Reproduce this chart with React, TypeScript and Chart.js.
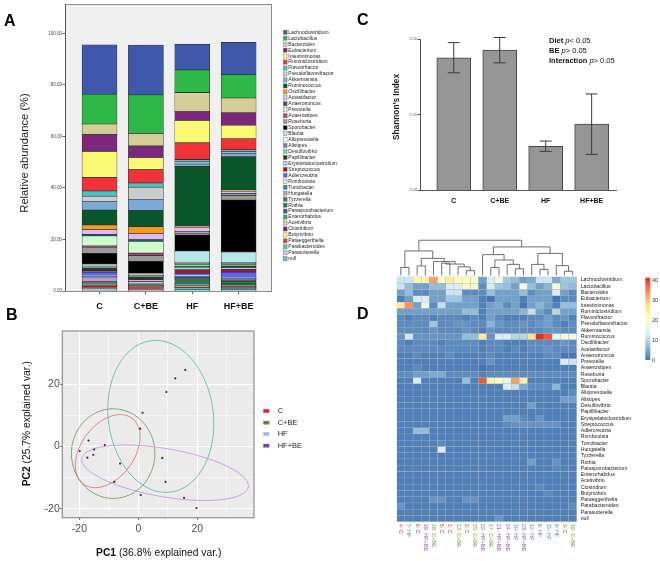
import React, { useEffect, useRef } from 'react';
import { Chart, registerables } from 'chart.js';
Chart.register(...registerables);

const FONT = '"Liberation Sans", Arial, Helvetica, sans-serif';
Chart.defaults.font.family = FONT;

// ---------------- Panel A : relative abundance ----------------
const groups = ['C', 'C+BE', 'HF', 'HF+BE'];
const genera = ['Lachnoclostridium', 'Lactobacillus', 'Bacteroides', 'Eubacterium', 'Intestinimonas', 'Ruminiclostridium', 'Flavonifractor', 'Pseudoflavonifractor', 'Akkermansia', 'Ruminococcus', 'Oscillibacter', 'Acetatifactor', 'Anaerotruncus', 'Prevotella', 'Anaerostipes', 'Roseburia', 'Sporobacter', 'Blautia', 'Alloprevotella', 'Alistipes', 'Desulfovibrio', 'Papillibacter', 'Erysipelatoclostridium', 'Streptococcus', 'Adlercreutzia', 'Romboutsia', 'Turicibacter', 'Hungatella', 'Tyzzerella', 'Rothia', 'Parasporobacterium', 'Enterorhabdus', 'Acetivibrio', 'Clostridium', 'Butyrivibrio', 'Paraeggerthella', 'Parabacteroides', 'Parasutterella', 'null'];
const generaColors = ['#3e58ac', '#2eb848', '#d3ce97', '#7c287d', '#fbf873', '#ef3338', '#48c2c5', '#cccccc', '#7aaad5', '#0a562c', '#f8981d', '#ddbaf1', '#1a5f76', '#ccffcc', '#bb3f7f', '#999999', '#000000', '#b6e7e8', '#ffffff', '#797aa7', '#70dc84', '#333333', '#acd0ee', '#a21619', '#5d61ff', '#e4e4e4', '#278bac', '#b89bc9', '#666666', '#0d8d46', '#3e58ac', '#2eb848', '#d3ce97', '#7c287d', '#fbf873', '#ef3338', '#48c2c5', '#cccccc', '#7aaad5'];
const abundanceC = [19.2, 11.6, 4.1, 6.5, 10.2, 5.2, 2.0, 2.0, 3.4, 5.8, 1.7, 1.9, 0.6, 3.9, 0.6, 2.3, 4.1, 0.4, 0.3, 0.5, 0.3, 1.2, 0.3, 0.2, 1.3, 0.3, 0.3, 1.7, 0.6, 0.2, 0.3, 0.2, 0.1, 0.3, 0.1, 0.8, 0.3, 0.4, 0.4];
const abundanceCBE = [19.4, 15.0, 4.8, 4.5, 4.7, 5.2, 1.6, 4.7, 4.4, 6.3, 2.7, 2.2, 0.8, 4.5, 1.0, 2.2, 4.7, 0.3, 0.4, 0.4, 0.2, 1.3, 0.4, 0.2, 0.2, 0.3, 0.2, 0.2, 0.3, 0.2, 0.1, 0.1, 0.1, 0.2, 0.1, 1.0, 0.2, 0.2, 0.2];
const abundanceHF = [10.0, 8.8, 7.4, 3.4, 8.7, 6.5, 0.9, 0.8, 0.9, 23.2, 0.4, 1.6, 0.5, 0.3, 0.2, 0.5, 6.2, 4.3, 0.3, 0.5, 0.8, 0.4, 1.0, 1.3, 0.8, 0.3, 0.6, 0.4, 0.5, 1.0, 0.5, 0.4, 0.3, 0.3, 0.2, 0.3, 0.8, 0.3, 0.2];
const abundanceHFBE = [12.5, 9.1, 5.7, 4.9, 5.2, 4.3, 0.8, 0.5, 1.4, 12.9, 0.5, 0.8, 0.3, 0.3, 0.2, 1.8, 20.2, 4.1, 0.3, 0.4, 0.6, 0.6, 0.8, 1.0, 2.0, 0.3, 0.5, 0.3, 0.6, 0.8, 0.3, 0.5, 0.2, 0.3, 0.1, 0.3, 0.6, 0.3, 0.2];
const abundanceTicks = [0, 20, 40, 60, 80, 100];

// ---------------- Panel B : PCA ----------------
const pcaGroups = ['C', 'C+BE', 'HF', 'HF+BE'];
const pcaLegendColors = ['#e8232a', '#4f8c3b', '#9db8e2', '#7541ae'];
const pcaEllipseColors = ['#e07474', '#809a64', '#66b9b5', '#c797e6'];
const pcaXC = [-16.9, -15.0, -17.3, -15.3, -11.4];
const pcaYC = [1.9, -1.0, -3.6, -2.7, 0.45];
const pcaXCBE = [-19.9, -6.2, -8.2, 0.8];
const pcaYCBE = [-1.5, -5.5, -11.4, -15.6];
const pcaXHF = [15.9, 12.5, 9.5, 1.4, 0.6];
const pcaYHF = [24.6, 21.9, 17.5, 10.8, 5.7];
const pcaXHFBE = [8.1, 9.2, 15.5, 19.7];
const pcaYHFBE = [-3.7, -11.4, -16.5, -19.8];
const ellipseCenterX = [-10.4, -8.55, 7.6, 9.05];
const ellipseCenterY = [-1.5, -2.3, 9.65, -8.46];
const ellipseRadiusA = [13.4, 14.15, 17.8, 28.6];
const ellipseRadiusB = [8.85, 14.4, 24.55, 7.75];
const ellipseAngleDeg = [50, 0, 8.5, -9.2];
const pcaTicks = [-20, -10, 0, 10, 20, 30];

// ---------------- Panel C : Shannon index ----------------
const shannonMean = [2.438, 2.463, 2.145, 2.218];
const shannonErr = [0.05, 0.042, 0.017, 0.1];
const shannonTicks = [2.0, 2.25, 2.5];

// ---------------- Panel D : heatmap ----------------
const heatCols = ['4- C', '7- HF', '6- C', '19- HF+BE', '18- C+BE', '5- C', '1- C', '13- C+BE', '2- C', '15- C+BE', '22- HF+BE', '17- C+BE', '21- HF+BE', '24- HF+BE', '10- HF', '23- HF+BE', '12- HF', '8- HF', '11- HF', '9- HF', '3- C', '16- C+BE'];
const heatRows = genera;
const heatValues = [
  [12, 12, 23, 23, 33, 20, 25, 22, 21, 21, 4, 13, 17, 8, 7, 4, 5, 12, 12, 5, 8, 8],
  [12, 7, 4, 4, 7, 7, 13, 13, 19, 19, 2, 13, 8, 7, 4, 18, 7, 4, 6, 19, 8, 7],
  [4, 7, 2, 2, 4, 4, 12, 12, 2, 2, 2, 7, 4, 4, 4, 7, 2, 4, 4, 13, 4, 2],
  [1, 4, 13, 13, 4, 4, 8, 8, 4, 4, 1, 0, 4, 4, 4, 1, 4, 4, 4, 0, 2, 2],
  [25, 34, 4, 16, 2, 11, 4, 4, 4, 4, 1, 4, 5, 2, 4, 0, 4, 6, 4, 1, 7, 7],
  [4, 4, 4, 4, 4, 4, 4, 4, 7, 7, 1, 4, 4, 4, 4, 6, 11, 4, 2, 10, 4, 4],
  [2, 1, 2, 2, 1, 2, 2, 2, 1, 2, 1, 4, 2, 1, 1, 1, 2, 2, 4, 2, 3, 1],
  [2, 2, 2, 2, 8, 2, 2, 3, 3, 2, 2, 6, 3, 2, 2, 3, 2, 3, 4, 2, 1, 2],
  [2, 2, 2, 2, 3, 2, 2, 2, 3, 2, 1, 3, 2, 2, 2, 2, 2, 2, 3, 3, 2, 2],
  [3, 12, 3, 3, 3, 3, 3, 3, 7, 7, 25, 3, 13, 13, 10, 10, 27, 41, 38, 14, 17, 17],
  [2, 1, 2, 2, 2, 1, 2, 2, 2, 2, 1, 2, 2, 1, 1, 1, 2, 2, 2, 2, 3, 2],
  [2, 2, 2, 2, 2, 2, 2, 2, 2, 2, 1, 2, 2, 1, 2, 1, 2, 2, 3, 2, 2, 2],
  [1, 1, 2, 1, 1, 1, 2, 1, 1, 1, 1, 2, 1, 1, 1, 1, 1, 1, 2, 2, 0, 0],
  [1, 1, 1, 1, 1, 1, 1, 1, 1, 1, 1, 3, 1, 1, 1, 1, 1, 1, 1, 1, 13, 12],
  [1, 1, 2, 1, 1, 1, 1, 1, 1, 1, 0, 1, 1, 1, 1, 1, 1, 1, 1, 1, 1, 1],
  [2, 2, 4, 4, 5, 5, 2, 2, 2, 2, 1, 2, 2, 2, 2, 2, 2, 2, 2, 2, 2, 2],
  [1, 1, 13, 1, 1, 1, 1, 1, 7, 1, 38, 22, 21, 14, 33, 23, 1, 1, 1, 1, 1, 1],
  [1, 1, 1, 1, 1, 1, 1, 1, 1, 1, 1, 1, 1, 13, 11, 5, 2, 2, 2, 6, 1, 1],
  [1, 1, 1, 1, 1, 1, 1, 1, 1, 1, 1, 1, 1, 1, 1, 1, 1, 1, 1, 1, 1, 2],
  [1, 1, 1, 1, 1, 1, 1, 1, 1, 1, 1, 1, 1, 1, 1, 1, 1, 1, 1, 1, 4, 4],
  [1, 1, 1, 1, 1, 1, 1, 1, 1, 1, 1, 1, 1, 1, 1, 1, 4, 1, 1, 1, 1, 1],
  [1, 1, 1, 1, 1, 1, 1, 1, 1, 1, 1, 1, 1, 1, 1, 1, 1, 1, 1, 1, 1, 1],
  [1, 1, 1, 1, 1, 1, 1, 1, 1, 1, 1, 1, 1, 4, 4, 2, 1, 3, 1, 1, 1, 1],
  [1, 1, 1, 1, 1, 1, 1, 1, 1, 1, 1, 1, 1, 2, 3, 3, 3, 3, 3, 3, 1, 1],
  [1, 1, 7, 7, 1, 1, 1, 1, 1, 1, 1, 1, 1, 1, 1, 1, 1, 1, 1, 1, 1, 1],
  [1, 1, 1, 1, 1, 1, 1, 1, 1, 1, 1, 1, 1, 1, 1, 1, 1, 1, 1, 1, 1, 1],
  [1, 1, 1, 1, 1, 2, 1, 1, 1, 1, 1, 1, 1, 1, 1, 1, 1, 1, 1, 1, 1, 1],
  [1, 1, 1, 1, 1, 13, 1, 1, 1, 1, 1, 1, 1, 1, 1, 1, 1, 1, 1, 1, 1, 1],
  [1, 1, 1, 1, 1, 1, 1, 1, 1, 1, 1, 1, 1, 1, 1, 1, 1, 1, 1, 1, 1, 1],
  [1, 1, 1, 1, 1, 1, 1, 1, 1, 1, 1, 1, 1, 1, 1, 1, 4, 1, 1, 3, 1, 1],
  [1, 1, 1, 1, 1, 1, 1, 1, 1, 1, 1, 1, 1, 1, 1, 1, 1, 1, 1, 2, 1, 1],
  [1, 1, 1, 1, 1, 1, 1, 1, 1, 1, 1, 1, 1, 1, 1, 1, 1, 1, 1, 1, 1, 1],
  [1, 1, 1, 1, 1, 1, 1, 1, 1, 1, 1, 1, 1, 1, 1, 1, 1, 1, 1, 1, 1, 1],
  [1, 1, 1, 1, 1, 1, 1, 1, 1, 1, 1, 1, 1, 1, 1, 1, 1, 2, 1, 1, 1, 1],
  [1, 1, 1, 1, 1, 1, 1, 1, 1, 1, 1, 1, 1, 1, 1, 1, 1, 1, 2, 1, 1, 1],
  [1, 1, 1, 1, 3, 3, 1, 1, 3, 3, 1, 1, 1, 1, 1, 1, 1, 1, 1, 1, 1, 1],
  [3, 1, 1, 1, 1, 1, 1, 1, 1, 1, 1, 1, 1, 1, 1, 1, 1, 1, 1, 1, 1, 2],
  [1, 1, 1, 1, 1, 1, 1, 1, 1, 1, 1, 1, 1, 1, 1, 1, 1, 1, 1, 1, 1, 1],
  [1, 1, 1, 1, 1, 1, 1, 1, 1, 1, 1, 1, 3, 1, 1, 1, 1, 1, 1, 1, 1, 1],
];
const heatLegendTicks = [0, 10, 20, 30, 40];
const heatMax = 41.2;
const heatStops = [0, 6.87, 13.73, 20.6, 27.47, 34.33, 41.2];
const heatStopColors = ['#4575b4', '#91bfdb', '#e0f3f8', '#ffffbf', '#fee090', '#fc8d59', '#d73027'];
// hclust-style merges: negative = leaf (column order), positive = earlier merge
const dendroLeft = [-1, -3, -6, -9, -8, 3, -5, 2, 1, -12, -15, -14, 10, -11, -18, -17, -21, -20, 16, 14, 9];
const dendroRight = [-2, -4, -7, -10, 4, 5, 6, 7, 8, -13, -16, 11, 12, 13, -19, 15, -22, 17, 18, 19, 20];
const dendroHeight = [1.5, 1.75, 2.2, 1.0, 1.6, 2.05, 2.45, 2.95, 4.14, 1.5, 1.3, 2.0, 2.7, 3.55, 1.2, 2.0, 0.9, 1.8, 3.75, 4.78, 5.84];
const dendroLeafBase = 0.25;
const sampleGroupColors: any = { 'C': '#d7352e', 'C+BE': '#6f9a3a', 'HF': '#5b80c6', 'HF+BE': '#8b4fb9' };

// ---------------- helpers ----------------
function hexToRgb(h: string) {
  const n = parseInt(h.slice(1), 16);
  return [(n >> 16) & 255, (n >> 8) & 255, n & 255];
}
function heatColor(v: number) {
  const t = Math.max(0, Math.min(heatMax, v));
  let i = 0;
  while (i < heatStops.length - 2 && t > heatStops[i + 1]) i++;
  const f = (t - heatStops[i]) / (heatStops[i + 1] - heatStops[i]);
  const a = hexToRgb(heatStopColors[i]);
  const b = hexToRgb(heatStopColors[i + 1]);
  const c = a.map((x, k) => Math.round(x + (b[k] - x) * f));
  return `rgb(${c[0]},${c[1]},${c[2]})`;
}

type Run = { text: string; font: string; color?: string };
function drawRuns(ctx: any, runs: Run[], x: number, y: number, align: string, rotate = 0) {
  ctx.save();
  ctx.translate(x, y);
  if (rotate) ctx.rotate(rotate);
  let total = 0;
  runs.forEach((r) => { ctx.font = r.font; total += ctx.measureText(r.text).width; });
  let cx = align === 'center' ? -total / 2 : align === 'right' ? -total : 0;
  ctx.textBaseline = 'middle';
  ctx.textAlign = 'left';
  runs.forEach((r) => {
    ctx.font = r.font;
    ctx.fillStyle = r.color || '#111';
    ctx.fillText(r.text, cx, 0);
    cx += ctx.measureText(r.text).width;
  });
  ctx.restore();
}

// ---------------- configs ----------------
function configA(): any {
  const series = [abundanceC, abundanceCBE, abundanceHF, abundanceHFBE];
  const datasets = genera.map((name, i) => ({
    label: name,
    data: groups.map((_, j) => ({ x: j, y: series[j][i] })),
    backgroundColor: generaColors[i],
    borderColor: '#2b2b2b',
    borderWidth: 0.6,
    borderSkipped: false,
    barThickness: 35,
  })).reverse();
  const frame = {
    id: 'frameA',
    beforeDraw(chart: any) {
      const { ctx, chartArea: a } = chart;
      ctx.save();
      ctx.fillStyle = '#f0f0f0';
      ctx.fillRect(a.left, a.top, a.right - a.left, a.bottom - a.top);
      ctx.restore();
    },
    afterDraw(chart: any) {
      const { ctx, chartArea: a } = chart;
      ctx.save();
      ctx.strokeStyle = '#8c8c8c';
      ctx.lineWidth = 1;
      ctx.strokeRect(a.left + 0.5, a.top + 0.5, a.right - a.left - 1, a.bottom - a.top);
      ctx.strokeStyle = '#555';
      ctx.beginPath(); ctx.moveTo(a.left + 0.5, a.top); ctx.lineTo(a.left + 0.5, a.bottom); ctx.stroke();
      ctx.restore();
    },
  };
  const legend = {
    id: 'legendA',
    afterDraw(chart: any) {
      const ctx = chart.ctx;
      ctx.save();
      ctx.font = `5px ${FONT}`;
      ctx.textBaseline = 'middle';
      genera.forEach((g, i) => {
        const y = 32.3 + i * 5.96;
        ctx.fillStyle = generaColors[i];
        ctx.fillRect(283.3, y - 2.1, 3.8, 4.2);
        ctx.strokeStyle = '#666';
        ctx.lineWidth = 0.4;
        ctx.strokeRect(283.3, y - 2.1, 3.8, 4.2);
        ctx.fillStyle = '#222';
        ctx.fillText(g, 288.3, y);
      });
      ctx.restore();
    },
  };
  const text = {
    id: 'textA',
    afterDraw(chart: any) {
      drawRuns(chart.ctx, [{ text: 'Relative abundance (%)', font: `11.2px ${FONT}`, color: '#1a1a1a' }], 25, 153, 'center', -Math.PI / 2);
    },
  };
  return {
    type: 'bar',
    data: { datasets },
    options: {
      animation: false,
      responsive: false,
      layout: { padding: { left: 0, top: 4, right: 73, bottom: 0 } },
      plugins: { legend: { display: false }, tooltip: { enabled: false } },
      scales: {
        x: {
          type: 'linear', min: -0.745, max: 3.72, stacked: true, offset: false,
          afterBuildTicks: (s: any) => { s.ticks = groups.map((_, j) => ({ value: j })); },
          afterFit: (s: any) => { s.height = 29; },
          ticks: { callback: (v: any) => groups[v], font: { size: 9, weight: 'bold' }, color: '#111', padding: 7, maxRotation: 0, autoSkip: false },
          grid: { display: true, drawOnChartArea: false, tickLength: 3, color: '#555', offset: false },
          border: { display: false },
        },
        y: {
          type: 'linear', min: 0, max: 111.4, stacked: true,
          afterBuildTicks: (s: any) => { s.ticks = abundanceTicks.map((v) => ({ value: v })); },
          afterFit: (s: any) => { s.width = 65; },
          ticks: { callback: (v: any) => Number(v).toFixed(2), font: { size: 4.5 }, color: '#444', padding: 0.5 },
          grid: { drawOnChartArea: false, tickLength: 2.5, color: '#666' },
          border: { display: false },
        },
      },
    },
    plugins: [frame, legend, text],
  };
}

function configB(): any {
  const xs = [pcaXC, pcaXCBE, pcaXHF, pcaXHFBE];
  const ys = [pcaYC, pcaYCBE, pcaYHF, pcaYHFBE];
  const datasets = pcaGroups.map((g, k) => ({
    label: g,
    data: xs[k].map((x, i) => ({ x, y: ys[k][i] })),
    pointRadius: 1.1,
    backgroundColor: '#333',
    borderWidth: 0,
  }));
  const bg = {
    id: 'bgB',
    beforeDraw(chart: any) {
      const { ctx, chartArea: a } = chart;
      ctx.save();
      ctx.fillStyle = '#ebebeb';
      ctx.fillRect(a.left, a.top, a.right - a.left, a.bottom - a.top);
      ctx.restore();
    },
    beforeDatasetsDraw(chart: any) {
      const { ctx } = chart;
      const sx = chart.scales.x, sy = chart.scales.y;
      ctx.save();
      ellipseCenterX.forEach((cx, k) => {
        const th = (ellipseAngleDeg[k] * Math.PI) / 180;
        const a = ellipseRadiusA[k], b = ellipseRadiusB[k], cy = ellipseCenterY[k];
        ctx.beginPath();
        for (let s = 0; s <= 120; s++) {
          const t = (s / 120) * Math.PI * 2;
          const dx = cx + a * Math.cos(t) * Math.cos(th) - b * Math.sin(t) * Math.sin(th);
          const dy = cy + a * Math.cos(t) * Math.sin(th) + b * Math.sin(t) * Math.cos(th);
          const px = sx.getPixelForValue(dx), py = sy.getPixelForValue(dy);
          if (s === 0) ctx.moveTo(px, py); else ctx.lineTo(px, py);
        }
        ctx.strokeStyle = pcaEllipseColors[k];
        ctx.lineWidth = 0.9;
        ctx.stroke();
      });
      ctx.restore();
    },
    afterDraw(chart: any) {
      const { ctx, chartArea: a } = chart;
      ctx.save();
      ctx.strokeStyle = '#8f8f8f';
      ctx.lineWidth = 1.2;
      ctx.strokeRect(a.left, a.top, a.right - a.left, a.bottom - a.top);
      ctx.restore();
      drawRuns(ctx, [{ text: 'PC1', font: `bold 10.3px ${FONT}` }, { text: ' (36.8% explained var.)', font: `10.3px ${FONT}` }], 158.7, 232.7, 'center');
      drawRuns(ctx, [{ text: 'PC2', font: `bold 10.3px ${FONT}` }, { text: ' (25.7% explained var.)', font: `10.3px ${FONT}` }], 27.5, 103.7, 'center', -Math.PI / 2);
      const ly = [91, 102.7, 114, 125.7];
      pcaGroups.forEach((g, k) => {
        ctx.save();
        ctx.fillStyle = pcaLegendColors[k];
        ctx.fillRect(263.3, ly[k] - 1.8, 6, 3.6);
        ctx.restore();
        drawRuns(ctx, [{ text: g, font: `7.5px ${FONT}`, color: '#222' }], 277.7, ly[k], 'left');
      });
    },
  };
  const major = (c: any) => c.tick && Math.abs(c.tick.value % 20) < 1e-9;
  const axisCommon = {
    type: 'linear',
    afterBuildTicks: (s: any) => { s.ticks = pcaTicks.map((v) => ({ value: v })); },
    ticks: { callback: (v: any) => (Math.abs(v % 20) < 1e-9 ? String(v) : ''), font: { size: 10.5 }, color: '#4d4d4d' },
    grid: {
      color: '#ffffff',
      lineWidth: (c: any) => (major(c) ? 1.1 : 0.5),
      tickColor: (c: any) => (major(c) ? '#555' : 'rgba(0,0,0,0)'),
      tickLength: 2,
    },
    border: { display: false },
  };
  return {
    type: 'scatter',
    data: { datasets },
    options: {
      animation: false,
      responsive: false,
      layout: { padding: { left: 0, top: 11, right: 81, bottom: 0 } },
      plugins: { legend: { display: false }, tooltip: { enabled: false } },
      scales: {
        x: { ...axisCommon, min: -25.8, max: 39.2, afterFit: (s: any) => { s.height = 43.3; }, ticks: { ...axisCommon.ticks, padding: 3.3, maxRotation: 0, autoSkip: false } },
        y: { ...axisCommon, min: -22.9, max: 37.1, afterFit: (s: any) => { s.width = 62.3; }, ticks: { ...axisCommon.ticks, padding: 0.5 } },
      },
    },
    plugins: [bg],
  };
}

function configC(): any {
  const extras = {
    id: 'extrasC',
    afterDatasetsDraw(chart: any) {
      const { ctx } = chart;
      const sx = chart.scales.x, sy = chart.scales.y;
      ctx.save();
      ctx.strokeStyle = '#3a3a3a';
      ctx.lineWidth = 1;
      shannonMean.forEach((m, j) => {
        const x = sx.getPixelForValue(j);
        const yt = sy.getPixelForValue(m + shannonErr[j]);
        const yb = sy.getPixelForValue(m - shannonErr[j]);
        ctx.beginPath();
        ctx.moveTo(x, yt); ctx.lineTo(x, yb);
        ctx.moveTo(x - 6, yt); ctx.lineTo(x + 6, yt);
        ctx.moveTo(x - 6, yb); ctx.lineTo(x + 6, yb);
        ctx.stroke();
      });
      ctx.restore();
    },
    afterDraw(chart: any) {
      const ctx = chart.ctx;
      drawRuns(ctx, [{ text: 'Shannon\u2019s Index', font: `bold 8.3px ${FONT}`, color: '#1a1a1a' }], 61.7, 107, 'center', -Math.PI / 2);
      const f = 7.5;
      drawRuns(ctx, [{ text: 'Diet', font: `bold ${f}px ${FONT}` }, { text: ' ', font: `${f}px ${FONT}` }, { text: 'p', font: `italic ${f}px ${FONT}` }, { text: '< 0.05', font: `${f}px ${FONT}` }], 214, 40.7, 'left');
      drawRuns(ctx, [{ text: 'BE', font: `bold ${f}px ${FONT}` }, { text: ' ', font: `${f}px ${FONT}` }, { text: 'p', font: `italic ${f}px ${FONT}` }, { text: '> 0.05', font: `${f}px ${FONT}` }], 214, 50.8, 'left');
      drawRuns(ctx, [{ text: 'Interaction', font: `bold ${f}px ${FONT}` }, { text: ' ', font: `${f}px ${FONT}` }, { text: 'p', font: `italic ${f}px ${FONT}` }, { text: '> 0.05', font: `${f}px ${FONT}` }], 214, 61, 'left');
    },
  };
  return {
    type: 'bar',
    data: {
      datasets: [{
        data: shannonMean.map((m, j) => ({ x: j, y: m })),
        backgroundColor: '#969696',
        borderColor: '#454545',
        borderWidth: 1,
        borderSkipped: false,
        barThickness: 34,
      }],
    },
    options: {
      animation: false,
      responsive: false,
      layout: { padding: { left: 0, top: 39, right: 44, bottom: 0 } },
      plugins: { legend: { display: false }, tooltip: { enabled: false } },
      scales: {
        x: {
          type: 'linear', min: -0.735, max: 3.53, offset: false,
          afterBuildTicks: (s: any) => { s.ticks = groups.map((_, j) => ({ value: j })); },
          afterFit: (s: any) => { s.height = 25; },
          ticks: { callback: (v: any) => groups[v], font: { size: 7, weight: 'bold' }, color: '#111', padding: 6.8, maxRotation: 0, autoSkip: false },
          grid: { display: false, drawTicks: false, offset: false },
          border: { display: true, color: '#555', width: 1 },
        },
        y: {
          type: 'linear', min: 2.0, max: 2.5,
          afterBuildTicks: (s: any) => { s.ticks = shannonTicks.map((v) => ({ value: v })); },
          afterFit: (s: any) => { s.width = 85; },
          ticks: { callback: (v: any) => Number(v).toFixed(2), font: { size: 4 }, color: '#555', padding: 0.5 },
          grid: { drawOnChartArea: false, tickLength: 2.5, color: '#555' },
          border: { display: true, color: '#555', width: 1 },
        },
      },
    },
    plugins: [extras],
  };
}

function configD(): any {
  const datasets = heatRows.map((name, r) => ({
    label: name,
    data: heatCols.map((_, c) => ({ x: c + 0.5, y: [r, r + 1] })),
    backgroundColor: heatValues[r].map((v) => heatColor(v)),
    borderColor: 'rgba(168,172,180,0.95)',
    borderWidth: 0.45,
    borderSkipped: false,
    grouped: false,
    barPercentage: 1,
    categoryPercentage: 1,
  }));
  const extras = {
    id: 'extrasD',
    afterDraw(chart: any) {
      const { ctx, chartArea: a } = chart;
      const sx = chart.scales.x, sy = chart.scales.y;
      // dendrogram
      const xs: number[] = [];
      const node = (id: number) => (id < 0 ? { x: -id - 1 + 0.5, h: dendroLeafBase } : { x: xs[id - 1], h: dendroHeight[id - 1] });
      ctx.save();
      ctx.strokeStyle = '#4a4a4a';
      ctx.lineWidth = 0.8;
      dendroLeft.forEach((l, k) => {
        const A = node(l), B = node(dendroRight[k]);
        const h = dendroHeight[k];
        xs[k] = (A.x + B.x) / 2;
        ctx.beginPath();
        ctx.moveTo(sx.getPixelForValue(A.x), sy.getPixelForValue(-A.h));
        ctx.lineTo(sx.getPixelForValue(A.x), sy.getPixelForValue(-h));
        ctx.lineTo(sx.getPixelForValue(B.x), sy.getPixelForValue(-h));
        ctx.lineTo(sx.getPixelForValue(B.x), sy.getPixelForValue(-B.h));
        ctx.stroke();
      });
      ctx.restore();
      // column labels
      heatCols.forEach((lab, c) => {
        const grp = lab.split('- ')[1];
        drawRuns(ctx, [{ text: lab, font: `5.5px ${FONT}`, color: sampleGroupColors[grp] }], sx.getPixelForValue(c + 0.5), a.bottom + 2, 'left', Math.PI / 2);
      });
      // colour key
      const top = 62.7, bot = 145, x0 = 310.3, w = 5;
      const g = ctx.createLinearGradient(0, bot, 0, top);
      heatStops.forEach((s, i) => g.addColorStop(s / heatMax, heatStopColors[i]));
      ctx.save();
      ctx.fillStyle = g;
      ctx.fillRect(x0, top, w, bot - top);
      ctx.restore();
      heatLegendTicks.forEach((v) => {
        const y = bot - (v / heatMax) * (bot - top);
        drawRuns(ctx, [{ text: String(v), font: `5.5px ${FONT}`, color: '#333' }], x0 + w + 1.7, y, 'left');
      });
    },
  };
  return {
    type: 'bar',
    data: { datasets },
    options: {
      animation: false,
      responsive: false,
      layout: { padding: { left: 61.7, top: 23, right: 0, bottom: 39.3 } },
      plugins: { legend: { display: false }, tooltip: { enabled: false } },
      scales: {
        x: { type: 'linear', min: 0, max: 22, display: false, offset: false, grid: { offset: false } },
        y: {
          type: 'linear', position: 'right', min: -6.2, max: 39, reverse: true,
          afterBuildTicks: (s: any) => { s.ticks = heatRows.map((_, r) => ({ value: r + 0.5 })); },
          afterFit: (s: any) => { s.width = 83.3; },
          ticks: { autoSkip: false, callback: (v: any) => heatRows[Math.floor(v)], font: { size: 5.2 }, color: '#222', padding: 4 },
          grid: { display: false, drawTicks: false },
          border: { display: false },
        },
      },
    },
    plugins: [extras],
  };
}

function ChartCanvas({ left, top, width, height, make }: any) {
  const ref = useRef<HTMLCanvasElement>(null);
  useEffect(() => {
    const chart = new Chart(ref.current as HTMLCanvasElement, make());
    return () => chart.destroy();
  }, []);
  return <canvas ref={ref} width={width} height={height} style={{ position: 'absolute', left, top, width, height }} />;
}

const letterStyle = (left: number, top: number): any => ({
  position: 'absolute', left, top, font: `bold 16px ${FONT}`, lineHeight: '16px', color: '#000',
});

export default function App() {
  return (
    <div style={{ position: 'absolute', left: 0, top: 0, width: 660, height: 561, background: '#fff', overflow: 'hidden' }}>
      <ChartCanvas left={0} top={0} width={345} height={320} make={configA} />
      <ChartCanvas left={0} top={320} width={335} height={241} make={configB} />
      <ChartCanvas left={335} top={0} width={325} height={215} make={configC} />
      <ChartCanvas left={335} top={215} width={325} height={346} make={configD} />
      <div style={letterStyle(4, 13.3)}>A</div>
      <div style={letterStyle(6, 307.3)}>B</div>
      <div style={letterStyle(357, 12)}>C</div>
      <div style={letterStyle(357, 306.3)}>D</div>
    </div>
  );
}
